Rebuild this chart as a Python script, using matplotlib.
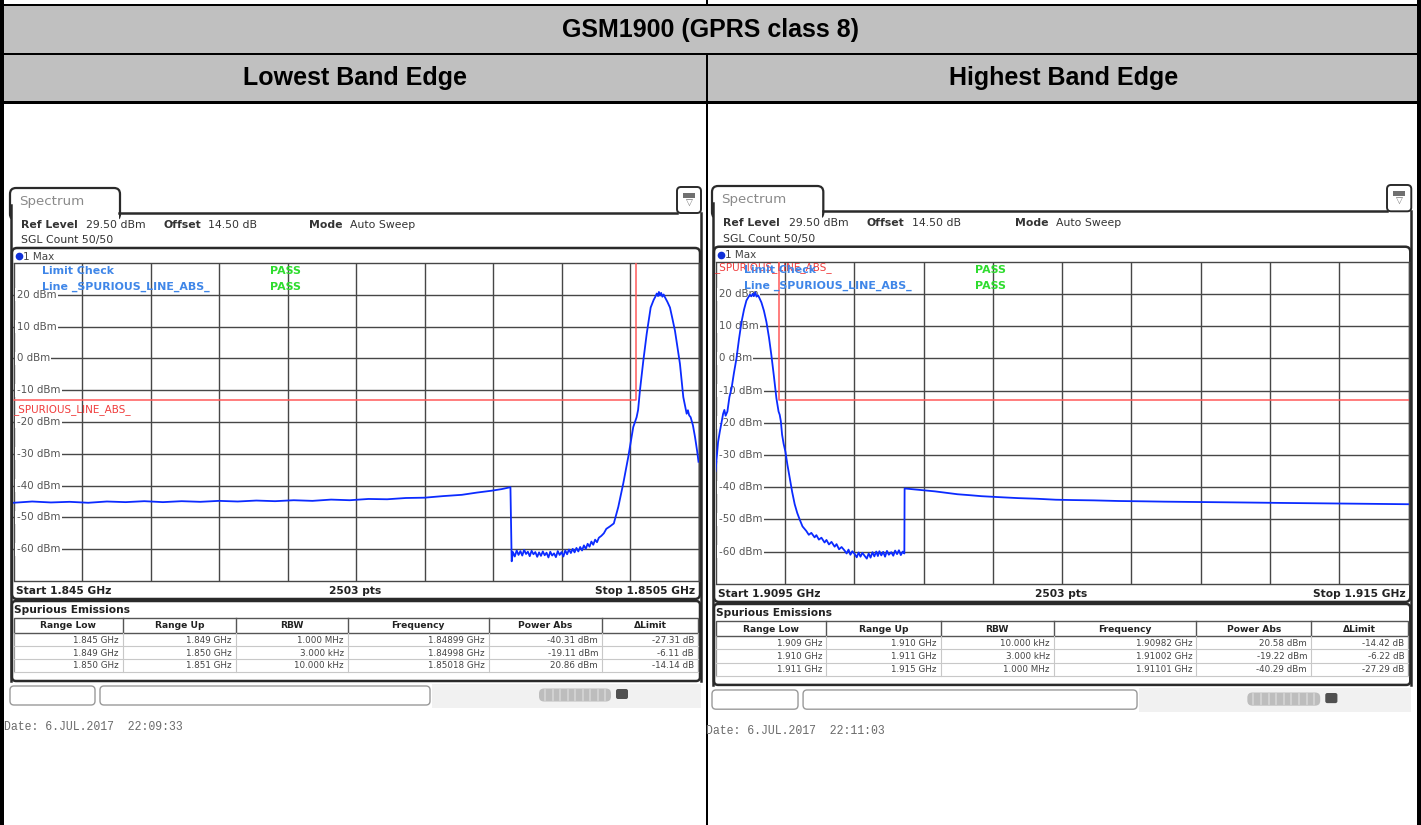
import numpy as np
import matplotlib
import matplotlib.pyplot as plt
from matplotlib.patches import Rectangle, FancyBboxPatch
from matplotlib.transforms import blended_transform_factory

matplotlib.use("agg")

W, H = 1421, 825

title = "GSM1900 (GPRS class 8)"
col_titles = ["Lowest Band Edge", "Highest Band Edge"]

# lowest band edge trace, MHz / dBm
low_freq = [
    1845.00, 1845.15, 1845.30, 1845.45, 1845.60, 1845.75, 1845.90, 1846.05, 1846.20, 1846.35,
    1846.50, 1846.65, 1846.80, 1846.95, 1847.10, 1847.25, 1847.40, 1847.55, 1847.70, 1847.85,
    1848.00, 1848.15, 1848.30, 1848.45, 1848.60, 1848.72, 1848.84, 1848.92, 1848.99, 1849.00,
    1849.010, 1849.025, 1849.040, 1849.055, 1849.070, 1849.085, 1849.100, 1849.115, 1849.130,
    1849.145, 1849.160, 1849.175, 1849.190, 1849.205, 1849.220, 1849.235, 1849.250, 1849.265,
    1849.280, 1849.295, 1849.310, 1849.325, 1849.340, 1849.355, 1849.370, 1849.385, 1849.400,
    1849.415, 1849.430, 1849.445, 1849.460, 1849.475, 1849.490, 1849.505, 1849.520, 1849.535,
    1849.550, 1849.565, 1849.580, 1849.595, 1849.610, 1849.625, 1849.640, 1849.655, 1849.670,
    1849.685, 1849.700, 1849.720, 1849.740, 1849.760, 1849.790, 1849.820, 1849.856, 1849.896,
    1849.936, 1849.976, 1850.003, 1850.015, 1850.030, 1850.057, 1850.084, 1850.116, 1850.140,
    1850.151, 1850.165, 1850.175, 1850.182, 1850.190, 1850.200, 1850.210, 1850.220, 1850.231,
    1850.250, 1850.271, 1850.290, 1850.311, 1850.330, 1850.351, 1850.378, 1850.405, 1850.415,
    1850.425, 1850.437, 1850.455, 1850.472, 1850.490, 1850.500,
]
low_level = [
    -45.4, -45.0, -45.3, -45.1, -45.4, -45.0, -45.2, -44.9, -45.2, -44.9,
    -45.1, -44.8, -45.0, -44.7, -44.9, -44.6, -44.8, -44.4, -44.6, -44.2,
    -44.3, -43.9, -43.8, -43.3, -42.9, -42.2, -41.6, -41.1, -40.5, -63.8,
    -60.9, -62.3, -60.4, -61.8, -60.6, -62.0, -60.2, -61.5, -60.8,
    -62.2, -60.5, -61.6, -60.9, -62.4, -61.0, -62.1, -60.7, -61.9,
    -61.1, -62.6, -60.8, -62.0, -61.3, -62.5, -60.6, -61.8, -60.9,
    -62.3, -60.4, -61.6, -60.1, -61.2, -59.9, -61.0, -59.6, -60.7,
    -59.3, -60.4, -58.8, -59.9, -58.3, -59.2, -57.6, -58.6, -57.0,
    -57.8, -56.4, -55.8, -55.0, -53.6, -52.8, -51.9, -46.7, -39.3,
    -31.0, -21.6, -18.5, -16.2, -10.0, -0.7, 7.7, 16.0, 18.4,
    19.2, 20.4, 19.6, 20.9, 19.8, 20.6, 19.4, 20.1, 19.2,
    17.8, 16.0, 12.6, 8.7, 3.8, -1.7, -12.2, -17.4, -16.3,
    -17.9, -18.5, -21.0, -24.7, -29.4, -32.5,
]

# highest band edge trace, MHz / dBm
high_freq = [
    1909.500, 1909.510, 1909.520, 1909.534, 1909.548, 1909.560, 1909.570, 1909.580, 1909.594,
    1909.610, 1909.627, 1909.646, 1909.666, 1909.686, 1909.706, 1909.726, 1909.745, 1909.760,
    1909.772, 1909.785, 1909.795, 1909.805, 1909.815, 1909.825, 1909.838, 1909.850, 1909.864,
    1909.884, 1909.904, 1909.924, 1909.943, 1909.963, 1909.983, 1910.000, 1910.009, 1910.018,
    1910.028, 1910.040, 1910.054, 1910.070, 1910.088, 1910.108, 1910.128, 1910.148, 1910.167,
    1910.190, 1910.220, 1910.240, 1910.260, 1910.286, 1910.300, 1910.320, 1910.340, 1910.365,
    1910.380, 1910.400, 1910.420, 1910.445, 1910.460, 1910.480, 1910.500, 1910.524, 1910.540,
    1910.555, 1910.570, 1910.585, 1910.603, 1910.620, 1910.635, 1910.650, 1910.665, 1910.682,
    1910.700, 1910.715, 1910.730, 1910.745, 1910.760, 1910.775, 1910.788, 1910.800, 1910.815,
    1910.830, 1910.845, 1910.860, 1910.875, 1910.894, 1910.910, 1910.925, 1910.940, 1910.955,
    1910.970, 1910.985, 1910.998, 1911.000, 1911.080, 1911.160, 1911.240, 1911.320, 1911.420,
    1911.520, 1911.610, 1911.750, 1911.900, 1912.050, 1912.200, 1912.330, 1912.500, 1912.700,
    1912.900, 1913.060, 1913.300, 1913.550, 1913.780, 1914.000, 1914.250, 1914.500, 1914.750,
    1915.000,
]
high_level = [
    -35.0, -30.5, -26.0, -22.7, -19.8, -17.2, -16.0, -17.8, -16.5,
    -12.0, -9.3, -4.5, 0.0, 6.0, 11.3, 15.2, 18.0, 19.0,
    19.8, 19.3, 20.1, 19.4, 20.6, 19.2, 19.6, 18.6, 17.4,
    14.8, 11.3, 6.5, 1.0, -5.5, -12.4, -16.5, -17.5, -19.5,
    -23.7, -26.5, -28.9, -33.0, -37.0, -41.5, -45.3, -48.0, -50.0,
    -52.2, -53.6, -54.8, -54.2, -55.6, -54.9, -56.3, -55.7, -57.2,
    -56.4, -57.8, -57.0, -58.5, -57.7, -59.3, -58.6, -59.7, -60.6,
    -59.4, -61.0, -59.9, -60.7, -61.8, -60.3, -61.6, -60.4, -61.3,
    -62.2, -60.6, -61.9, -60.2, -61.5, -60.0, -61.4, -59.9, -61.2,
    -60.1, -61.6, -59.8, -61.0, -60.2, -61.3, -59.7, -60.8, -59.6,
    -61.1, -60.0, -60.6, -40.4, -40.7, -41.0, -41.3, -41.7, -42.2,
    -42.5, -42.8, -43.1, -43.4, -43.6, -43.9, -44.0, -44.1, -44.3,
    -44.4, -44.5, -44.6, -44.7, -44.8, -44.9, -45.0, -45.1, -45.2,
    -45.3,
]

low_span = (1845.0, 1850.5)
high_span = (1909.5, 1915.0)
low_limit_freq = [1845.0, 1850.0, 1850.0]
low_limit_level = [-13, -13, 40]
high_limit_freq = [1910.0, 1910.0, 1915.0]
high_limit_level = [40, -13, -13]

level_ticks = [20, 10, 0, -10, -20, -30, -40, -50, -60]
level_labels = ["20 dBm", "10 dBm", "0 dBm", "-10 dBm", "-20 dBm",
                "-30 dBm", "-40 dBm", "-50 dBm", "-60 dBm"]

table_head = ["Range Low", "Range Up", "RBW", "Frequency", "Power Abs", "\u0394Limit"]
low_rows = [
    ["1.845 GHz", "1.849 GHz", "1.000 MHz", "1.84899 GHz", "-40.31 dBm", "-27.31 dB"],
    ["1.849 GHz", "1.850 GHz", "3.000 kHz", "1.84998 GHz", "-19.11 dBm", "-6.11 dB"],
    ["1.850 GHz", "1.851 GHz", "10.000 kHz", "1.85018 GHz", "20.86 dBm", "-14.14 dB"],
]
high_rows = [
    ["1.909 GHz", "1.910 GHz", "10.000 kHz", "1.90982 GHz", "20.58 dBm", "-14.42 dB"],
    ["1.910 GHz", "1.911 GHz", "3.000 kHz", "1.91002 GHz", "-19.22 dBm", "-6.22 dB"],
    ["1.911 GHz", "1.915 GHz", "1.000 MHz", "1.91101 GHz", "-40.29 dBm", "-27.29 dB"],
]
start_labels = ["Start 1.845 GHz", "Start 1.9095 GHz"]
stop_labels = ["Stop 1.8505 GHz", "Stop 1.915 GHz"]
dates = ["Date: 6.JUL.2017  22:09:33", "Date: 6.JUL.2017  22:11:03"]

DARK = "#2a2a2a"
GRID = "#474747"

fig = plt.figure(figsize=(W / 100, H / 100), dpi=100)
bg = fig.add_axes([0, 0, 1, 1])
bg.set_xlim(0, W)
bg.set_ylim(H, 0)
bg.axis("off")
ov = fig.add_axes([0, 0, 1, 1], zorder=5)
ov.set_xlim(0, W)
ov.set_ylim(H, 0)
ov.axis("off")
ov.patch.set_alpha(0)


def rect(ax, x0, y0, x1, y1, **kw):
    kw.setdefault("lw", 0)
    ax.add_patch(Rectangle((x0, y0), x1 - x0, y1 - y0, **kw))


def rbox(ax, x0, y0, w, h, r, **kw):
    ax.add_patch(FancyBboxPatch((x0, y0), w, h, boxstyle=f"round,pad=0,rounding_size={r}", **kw))


# document table around the screenshots
rect(bg, 0, 6, W, 53, fc="#c0c0c0")
rect(bg, 0, 55, W, 101, fc="#c0c0c0")
rect(bg, 0, 3.5, W, 6, fc="black")
rect(bg, 0, 53, W, 55, fc="black")
rect(bg, 0, 101, W, 104, fc="black")
rect(bg, 705.5, 0, 707.5, 4, fc="black")
rect(bg, 705.5, 55, 707.5, H, fc="black")
rect(bg, 0, 0, 3.5, H, fc="black", zorder=6)
rect(bg, 1417, 0, W, H, fc="black", zorder=6)

hfont = dict(family="Liberation Sans", fontweight="bold", fontsize=18, color="black",
             ha="center", va="center")
bg.text(711, 30, title, **hfont)
bg.text(355, 78.5, col_titles[0], **hfont)
bg.text(1064, 78.5, col_titles[1], **hfont)


def draw_panel(ox, oy, s, span, freq, level, lim_f, lim_l, rows, start_txt, stop_txt,
               date_txt, red_top):
    def X(x):
        return ox + (x - 10) * s

    def Y(y):
        return oy + (y - 188) * s

    # tab + header line + menu icon
    rbox(bg, X(10), Y(188), 110 * s, 32 * s, 6 * s, fc="white", ec=DARK, lw=1.6, zorder=2)
    rect(bg, X(11.2), Y(212.2), X(118.8), Y(224), fc="white", zorder=3)
    bg.plot([X(119.3), X(677)], [Y(213)] * 2, color=DARK, lw=1.8, zorder=3)
    bg.plot([X(11), X(11)], [Y(205), Y(681)], color=DARK, lw=1.8, zorder=3)
    bg.plot([X(701), X(701)], [Y(213), Y(681)], color=DARK, lw=1.8, zorder=3)
    rbox(bg, X(677), Y(187), 24 * s, 26 * s, 4 * s, fc="white", ec=DARK, lw=1.4, zorder=4)
    rect(bg, X(683), Y(193), X(695), Y(197.5), fc="#707070", zorder=5)
    bg.text(X(689), Y(203.5), "\u25bd", fontsize=6.5, color="#707070", ha="center",
            va="center", zorder=5)
    bg.text(X(19), Y(201), "Spectrum", fontsize=9.6, color="#8a8a8a", va="center")

    small = dict(fontsize=7.8, color="#333333", va="center")
    bg.text(X(21), Y(224.5), "Ref Level", fontweight="bold", **small)
    bg.text(X(86), Y(224.5), "29.50 dBm", **small)
    bg.text(X(163), Y(224.5), "Offset", fontweight="bold", **small)
    bg.text(X(208), Y(224.5), "14.50 dB", **small)
    bg.text(X(309), Y(224.5), "Mode", fontweight="bold", **small)
    bg.text(X(350), Y(224.5), "Auto Sweep", **small)
    bg.text(X(21), Y(240), "SGL Count 50/50", **small)

    # diagram frame
    rbox(bg, X(12), Y(248), 688 * s, 351 * s, 5 * s, fc="white", ec=DARK, lw=1.8, zorder=2)
    ov.plot([X(19)], [Y(256)], "o", ms=4.5, color="#1030d8")
    ov.text(X(23), Y(256.5), "1 Max", fontsize=7.5, color="#444444", va="center")

    gx0, gx1, gy0, gy1 = X(13.5), X(698.5), Y(263), Y(581)
    ax = fig.add_axes([gx0 / W, 1 - gy1 / H, (gx1 - gx0) / W, (gy1 - gy0) / H], zorder=2)
    ax.patch.set_alpha(0)
    ax.set_xlim(*span)
    ax.set_ylim(-70, 30)
    ax.set_xticks(np.linspace(span[0], span[1], 11))
    ax.set_yticks(level_ticks)
    ax.tick_params(length=0, labelbottom=False, labelleft=False)
    ax.grid(True, color=GRID, lw=1.0)
    ax.set_axisbelow(True)
    for sp in ax.spines.values():
        sp.set_color(GRID)
        sp.set_linewidth(1.0)
    ax.spines["left"].set_visible(False)

    tr = blended_transform_factory(ax.transAxes, ax.transData)
    for v, lab in zip(level_ticks, level_labels):
        ax.text(3.2 * s / (gx1 - gx0), v, lab, transform=tr, fontsize=7.4, color="#555555",
                va="center", ha="left", zorder=2,
                bbox=dict(fc="white", ec="none", pad=1.0))

    ax.plot(lim_f, lim_l, color="#ff5a5a", lw=1.1, zorder=3)
    ax.plot(freq, level, color="#0b2bff", lw=1.3, zorder=4)

    red = dict(fontsize=7.5, color="#f03c3c")
    if red_top:
        ov.text(X(12), Y(269), "_SPURIOUS_LINE_ABS_", va="center", **red)
    else:
        ax.text(0.0, -14.4, "_SPURIOUS_LINE_ABS_", transform=tr, va="top", **red)

    blue = dict(fontsize=7.9, fontweight="bold", color="#3f86e8", va="center")
    green = dict(fontsize=7.9, fontweight="bold", color="#2edc2e", va="center")
    ov.text(X(42), Y(271), "Limit Check", **blue)
    ov.text(X(42), Y(287), "Line _SPURIOUS_LINE_ABS_", **blue)
    ov.text(X(270), Y(271), "PASS", **green)
    ov.text(X(270), Y(287), "PASS", **green)

    bold = dict(fontsize=7.7, fontweight="bold", color="#222222", va="center")
    bg.text(X(16), Y(591), start_txt, ha="left", zorder=5, **bold)
    bg.text(X(355), Y(591), "2503 pts", ha="center", zorder=5, **bold)
    bg.text(X(695), Y(591), stop_txt, ha="right", zorder=5, **bold)

    # spurious emissions table
    rbox(bg, X(12), Y(601), 688 * s, 80 * s, 4 * s, fc="white", ec=DARK, lw=1.8, zorder=2)
    bg.text(X(14), Y(610), "Spurious Emissions", ha="left", zorder=5, **bold)
    edges = [13.6, 122.7, 236, 347.7, 488.6, 602, 698]
    row_lines = [633, 646, 659, 672]
    rect(bg, X(edges[0]), Y(618), X(edges[-1]), Y(633), fc="white", ec="#555555", lw=1.0, zorder=3)
    for e in edges[1:-1]:
        bg.plot([X(e)] * 2, [Y(618), Y(633)], color="#555555", lw=1.0, zorder=4)
        bg.plot([X(e)] * 2, [Y(633), Y(672)], color="#c8c8c8", lw=0.8, zorder=4)
    for e in (edges[0], edges[-1]):
        bg.plot([X(e)] * 2, [Y(633), Y(672)], color="#9a9a9a", lw=0.9, zorder=4)
    for r in row_lines[1:]:
        bg.plot([X(edges[0]), X(edges[-1])], [Y(r)] * 2, color="#c8c8c8", lw=0.8, zorder=4)
    for i, head in enumerate(table_head):
        bg.text(X((edges[i] + edges[i + 1]) / 2), Y(626), head, fontsize=6.6,
                fontweight="bold", color="#222222", ha="center", va="center", zorder=5)
    for j, row in enumerate(rows):
        for i, cell in enumerate(row):
            bg.text(X(edges[i + 1] - 4), Y(640.5 + 12.7 * j), cell, fontsize=6.3,
                    color="#444444", ha="right", va="center", zorder=5)

    # status bar
    rect(bg, X(432), Y(684), X(701), Y(708), fc="#f1f1f1", zorder=2)
    rbox(bg, X(10), Y(686), 85 * s, 19 * s, 4 * s, fc="white", ec="#9a9a9a", lw=1.0, zorder=3)
    rbox(bg, X(100), Y(686), 330 * s, 19 * s, 4 * s, fc="white", ec="#9a9a9a", lw=1.0, zorder=3)
    rbox(bg, X(539), Y(688.5), 72 * s, 13 * s, 5 * s, fc="#bdbdbd", ec="none", zorder=3)
    for xs in np.linspace(545, 605, 9):
        bg.plot([X(xs)] * 2, [Y(690), Y(700)], color="#d6d6d6", lw=1.2, zorder=4)
    rbox(bg, X(616), Y(689), 12 * s, 10 * s, 2 * s, fc="#505050", ec="none", zorder=3)

    bg.text(X(4), Y(727), date_txt, family="Liberation Mono", fontsize=8.3,
            color="#6a6a6a", va="center", zorder=5)


draw_panel(10, 188, 1.0, low_span, low_freq, low_level, low_limit_freq, low_limit_level,
           low_rows, start_labels[0], stop_labels[0], dates[0], False)
draw_panel(712, 186, 1.012, high_span, high_freq, high_level, high_limit_freq,
           high_limit_level, high_rows, start_labels[1], stop_labels[1], dates[1], True)

fig.savefig("out.png", dpi=100)
